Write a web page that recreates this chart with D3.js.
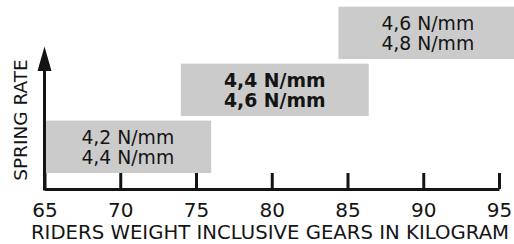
<!DOCTYPE html>
<html>
<head>
<meta charset="utf-8">
<script src="https://cdn.jsdelivr.net/npm/d3@7"></script>
<style>
	body { margin: 0; background: #fff; }
	svg { display: block; font-family: "DejaVu Sans", sans-serif; }
</style>
</head>
<body>
<div id="chart"></div>
<script>
// weight ranges (kg) per spring rate recommendation
const weightFrom = [65, 74, 84.4];
const weightTo = [76, 86.4, 96.2];
const rateLow = ["4,2 N/mm", "4,4 N/mm", "4,6 N/mm"];
const rateHigh = ["4,4 N/mm", "4,6 N/mm", "4,8 N/mm"];
const highlighted = [false, true, false];
const xTicks = [65, 70, 75, 80, 85, 90, 95];

const width = 514, height = 244;
const baseY = 189;
const ink = "#141414";

const svg = d3.select("#chart")
	.append("svg")
	.attr("width", width)
	.attr("height", height);

const x = d3.scaleLinear().domain([65, 95]).range([44.5, 499]);
const y = d3.scaleBand()
	.domain(d3.range(weightFrom.length))
	.range([173, 6.7])
	.paddingInner(0.08);

const levels = d3.range(weightFrom.length);

// Boxes
const boxes = svg.append("g")
	.classed("boxes", true)
	.selectAll("g")
	.data(levels)
	.enter()
		.append("g");

boxes.append("rect")
	.attr("x", i => x(weightFrom[i]))
	.attr("y", i => y(i))
	.attr("width", i => Math.min(x(weightTo[i]), width + 10) - x(weightFrom[i]))
	.attr("height", y.bandwidth())
	.attr("fill", "#cbcbcb");

const label = boxes.append("text")
	.attr("text-anchor", "middle")
	.attr("fill", ink)
	.attr("font-size", 18.8)
	.attr("font-weight", i => highlighted[i] ? "bold" : "normal");

label.append("tspan")
	.attr("x", i => (x(weightFrom[i]) + x(weightTo[i])) / 2)
	.attr("y", i => y(i) + y.bandwidth() / 2 - 2.5)
	.text(i => rateLow[i]);

label.append("tspan")
	.attr("x", i => (x(weightFrom[i]) + x(weightTo[i])) / 2)
	.attr("y", i => y(i) + y.bandwidth() / 2 + 17.5)
	.text(i => rateHigh[i]);

// X axis, ticks pointing up
const xAxis = d3.axisBottom(x)
	.tickValues(xTicks)
	.tickSizeInner(-16)
	.tickSizeOuter(0)
	.tickPadding(14);

const gx = svg.append("g")
	.attr("class", "x axis")
	.attr("transform", "translate(0," + baseY + ")")
	.call(xAxis);

gx.select(".domain").attr("stroke", ink).attr("stroke-width", 3);
gx.selectAll(".tick line").attr("stroke", ink).attr("stroke-width", 3);
gx.selectAll(".tick text")
	.attr("fill", ink)
	.attr("font-size", 20)
	.attr("font-family", "DejaVu Sans, sans-serif");

// Y axis with arrow
const yAxis = svg.append("g").attr("class", "y axis");
yAxis.append("line")
	.attr("x1", x(65)).attr("x2", x(65))
	.attr("y1", baseY + 1.5).attr("y2", 68)
	.attr("stroke", ink)
	.attr("stroke-width", 3);
yAxis.append("path")
	.attr("d", "M" + x(65) + ",46.5L" + (x(65) + 7) + ",71L" + (x(65) - 7) + ",71Z")
	.attr("fill", ink);

// Axis titles
svg.append("text")
	.attr("x", 270)
	.attr("y", 238.5)
	.attr("text-anchor", "middle")
	.attr("fill", ink)
	.attr("font-size", 19.7)
	.text("RIDERS WEIGHT INCLUSIVE GEARS IN KILOGRAM");

svg.append("text")
	.attr("transform", "translate(26.5,120) rotate(-90)")
	.attr("text-anchor", "middle")
	.attr("fill", ink)
	.attr("font-size", 18.5)
	.text("SPRING RATE");
</script>
</body>
</html>
